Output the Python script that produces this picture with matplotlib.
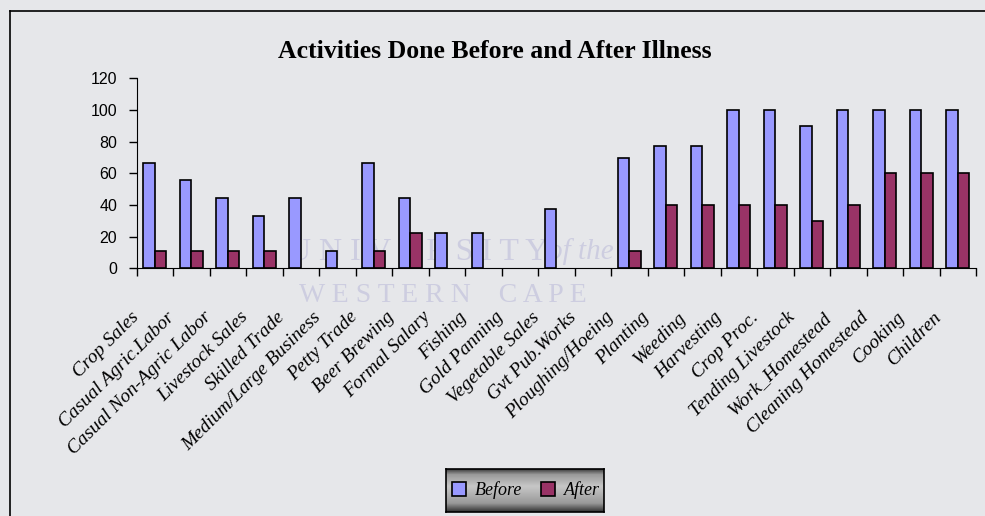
import numpy as np
import matplotlib.pyplot as plt
import matplotlib.transforms as mtransforms
from matplotlib.lines import Line2D

# data
categories = ['Crop Sales', 'Casual Agric.Labor', 'Casual Non-Agric Labor', 'Livestock Sales',
              'Skilled Trade', 'Medium/Large Business', 'Petty Trade', 'Beer Brewing',
              'Formal Salary', 'Fishing', 'Gold Panning', 'Vegetable Sales', 'Gvt Pub.Works',
              'Ploughing/Hoeing', 'Planting', 'Weeding', 'Harvesting', 'Crop Proc.',
              'Tending Livestock', 'Work_Homestead', 'Cleaning Homestead', 'Cooking', 'Children']
before = [66.7, 55.6, 44.4, 33.3, 44.4, 11.1, 66.7, 44.4, 22.2, 22.2, 0, 37.5, 0,
          70, 77.3, 77.3, 100, 100, 90, 100, 100, 100, 100]
after = [11.1, 11.1, 11.1, 11.1, 0, 0, 11.1, 22.2, 0, 0, 0, 0, 0,
         11.1, 40, 40, 40, 40, 30, 40, 60, 60, 60]
yticks = [0, 20, 40, 60, 80, 100, 120]

bg = '#e6e7ea'
fig = plt.figure(figsize=(9.85, 5.16), dpi=100, facecolor=bg)

# faint watermark text behind the chart
wm = '#cdcde0'
fig.text(0.425, 1 - 252 / 516, 'U N I V E R S I T Y', fontsize=23, family='Liberation Serif',
         color=wm, ha='center', va='center', zorder=-5)
fig.text(0.59, 1 - 252 / 516, 'of the', fontsize=21, family='Liberation Serif', style='italic',
         color=wm, ha='center', va='center', zorder=-5)
fig.text(0.45, 1 - 296 / 516, 'W E S T E R N    C A P E', fontsize=20, family='Liberation Serif',
         color=wm, ha='center', va='center', zorder=-5)

ax = fig.add_axes([136.7 / 985, 1 - 268.3 / 516, (976 - 136.7) / 985, (268.3 - 78.5) / 516])
ax.set_facecolor('none')

x = np.arange(len(categories))
w = 0.315
b1 = ax.bar(x - w / 2, before, w, color='#9999FF', edgecolor='black', linewidth=1.2, label='Before', zorder=3)
b2 = ax.bar(x + w / 2, after, w, color='#993366', edgecolor='black', linewidth=1.2, label='After', zorder=3)
# zero values: no visible bar
for p in list(b1) + list(b2):
    if p.get_height() == 0:
        p.set_visible(False)

ax.set_xlim(-0.5, len(categories) - 0.5)
ax.set_ylim(0, 120)
ax.set_yticks(yticks)
ax.tick_params(axis='y', length=6, width=1, pad=8, labelsize=11.5)
for lb in ax.get_yticklabels():
    lb.set_family('Liberation Sans')

ax.set_xticks(np.arange(-0.5, len(categories)), minor=False)
ax.set_xticklabels([])
ax.tick_params(axis='x', which='major', length=6, width=1, direction='out')
ax.set_xticks(x, minor=True)
ax.set_xticklabels(categories, minor=True, rotation=45, ha='right', rotation_mode='anchor',
                   fontsize=14, family='Liberation Serif', style='italic')
ax.tick_params(axis='x', which='minor', length=0, pad=29)
shift = mtransforms.ScaledTranslation(-25 / 100, 0, fig.dpi_scale_trans)
for lb in ax.get_xticklabels(minor=True):
    lb.set_transform(lb.get_transform() + shift)

for s in ['top', 'right']:
    ax.spines[s].set_visible(False)

fig.text(0.5025, 1 - 52 / 516, 'Activities Done Before and After Illness', ha='center', va='center',
         fontsize=18.5, fontweight='bold', family='Liberation Serif')

# frame lines of the chart area
fig.add_artist(Line2D([10 / 985, 10 / 985], [0, 1 - 11 / 516], color='black', lw=1.2))
fig.add_artist(Line2D([10 / 985, 1], [1 - 11 / 516, 1 - 11 / 516], color='black', lw=1.2))

# legend box with metallic gradient
lax = fig.add_axes([446 / 985, 4 / 516, 158 / 985, 43 / 516])
grad = np.interp(np.linspace(0, 1, 60), [0, 0.12, 0.4, 0.8, 1], [0.25, 0.6, 0.78, 0.6, 0.2])
lax.imshow(grad[:, None], cmap='gray', vmin=0, vmax=1, aspect='auto', extent=[0, 1, 0, 1])
lax.set_xticks([])
lax.set_yticks([])
for s in lax.spines.values():
    s.set_color('black')
    s.set_linewidth(1.2)
h1 = Line2D([], [], marker='s', color='none', markerfacecolor='#9999FF', markeredgecolor='black',
            markersize=10, markeredgewidth=1.2)
h2 = Line2D([], [], marker='s', color='none', markerfacecolor='#993366', markeredgecolor='black',
            markersize=10, markeredgewidth=1.2)
lax.legend([h1, h2], ['Before', 'After'], loc='center', ncol=2, frameon=False,
           prop={'family': 'Liberation Serif', 'style': 'italic', 'size': 13},
           handlelength=1, handletextpad=0.4, columnspacing=0.9, borderpad=0)

fig.savefig('out.png', dpi=100, facecolor=bg)
